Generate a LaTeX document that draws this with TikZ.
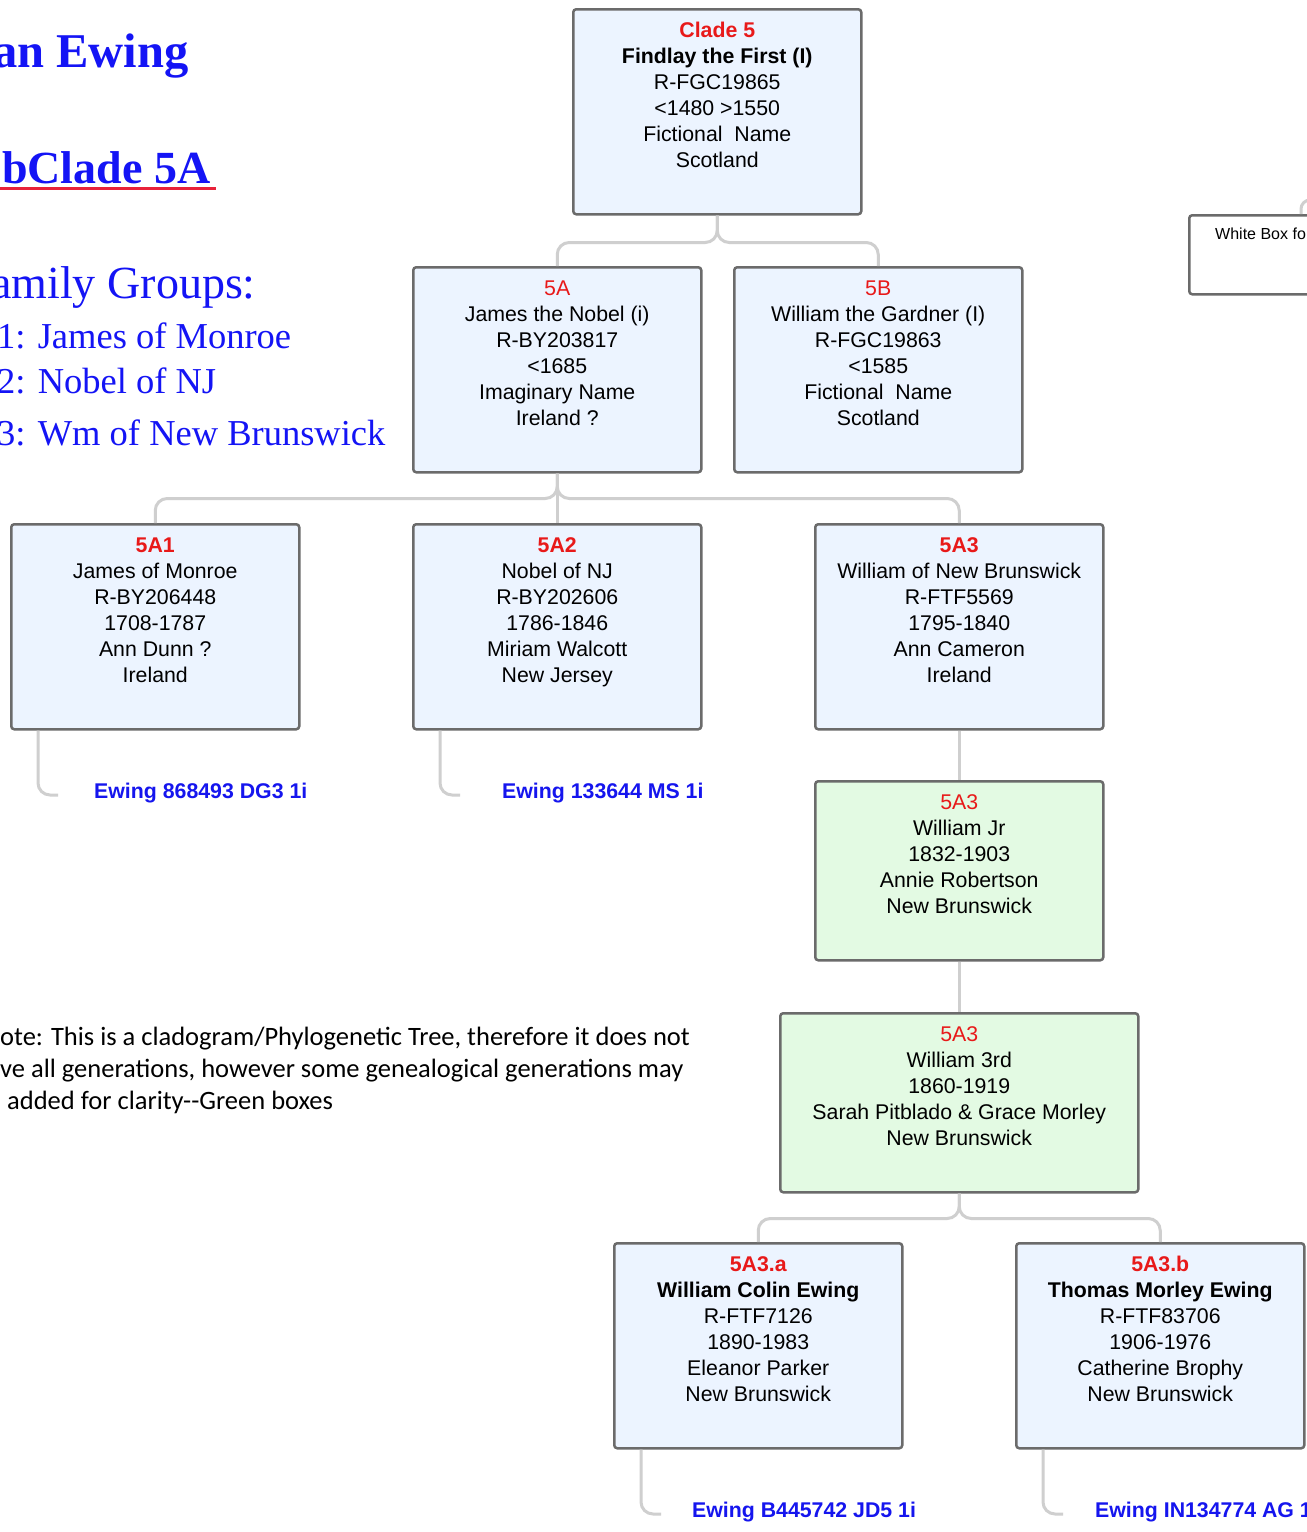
\documentclass[tikz,border=0pt]{standalone}
\usepackage{fontspec}
\setmainfont{Liberation Sans}
\newfontfamily\serifttl{Liberation Serif}
\newfontfamily\calib{Carlito}
\definecolor{boxline}{HTML}{6B6B6B}
\definecolor{bluefill}{HTML}{ECF4FF}
\definecolor{greenfill}{HTML}{E3FAE3}
\definecolor{connline}{HTML}{CFCFCF}
\definecolor{redtxt}{HTML}{E81919}
\definecolor{lblblue}{HTML}{1515EE}
\definecolor{ttlblue}{HTML}{1414F5}
\definecolor{ulred}{HTML}{E8223A}
\tikzset{
  box/.style={draw=boxline, line width=2.5pt, rounded corners=3pt, fill=bluefill,
    minimum width=288pt, minimum height=205pt, anchor=north west, inner sep=0pt},
  gbox/.style={box, fill=greenfill},
  txt/.style={anchor=north, align=center, inner sep=0pt, font=\fontsize{21.3}{26}\selectfont},
  conn/.style={draw=connline, line width=3pt, rounded corners=12pt},
  lbl/.style={anchor=west, inner sep=0pt, text=lblblue, font=\bfseries\fontsize{21.3}{26}\selectfont},
  ttl/.style={anchor=base west, inner sep=0pt, text=ttlblue},
  note/.style={anchor=base west, inner sep=0pt, font=\calib\fontsize{26.5}{32}\selectfont},
}
\newcommand{\rd}[1]{\textcolor{redtxt}{#1}}
\begin{document}
\begin{tikzpicture}[x=1pt,y=-1pt]
\useasboundingbox (0,0) rectangle (1307,1532);
\clip (0,0) rectangle (1307,1532);
\fill[white] (0,0) rectangle (1307,1532);

% titles
\node[ttl, font=\serifttl\bfseries\fontsize{48.5}{52}\selectfont] (t1) at (-7,67) {an Ewing};
\node[ttl, font=\serifttl\bfseries\fontsize{46}{50}\selectfont] (t2) at (2,183) {bClade 5A};
\draw[ulred, line width=3pt] (0,188) -- (216,188);
\node[ttl, font=\serifttl\fontsize{46}{50}\selectfont] (t3) at (-9,298) {amily Groups:};
\node[ttl, font=\serifttl\fontsize{36.5}{40}\selectfont] (g1) at (-3,348) {1: James of Monroe};
\node[ttl, font=\serifttl\fontsize{36.5}{40}\selectfont] (g2) at (-3,393) {2: Nobel of NJ};
\node[ttl, font=\serifttl\fontsize{36.5}{40}\selectfont] (g3) at (-3,445) {3: Wm of New Brunswick};

% note
\node[note] (n1) at (0,1045) {ote: This is a cladogram/Phylogenetic Tree, therefore it does not};
\node[note] (n2) at (0,1077) {ve all generations, however some genealogical generations may};
\node[note] (n3) at (7,1109) {added for clarity{-}{-}Green boxes};

% boxes
\node[box] (c5) at (572,8) {};
\node[box] (b5a) at (412,266) {};
\node[box] (b5b) at (733,266) {};
\node[box] (a1) at (10,523) {};
\node[box] (a2) at (412,523) {};
\node[box] (a3) at (814,523) {};
\node[gbox, minimum height=179pt] (gA) at (814,780) {};
\node[gbox, minimum width=358pt, minimum height=179pt] (gB) at (779,1012) {};
\node[box] (ea) at (613,1242) {};
\node[box] (eb) at (1015,1242) {};
\node[box, fill=white, minimum width=160pt, minimum height=79pt] (wb) at (1188,214) {};

% box texts
\node[txt] (c5t) at ([yshift=-14.2pt]c5.north) {\rd{\bfseries Clade 5}\\\bfseries Findlay the First (I)\\R-FGC19865\\<1480 >1550\\Fictional\ \ Name\\Scotland};
\node[txt] (b5at) at ([yshift=-14.2pt]b5a.north) {\rd{5A}\\James the Nobel (i)\\R-BY203817\\<1685\\Imaginary Name\\Ireland ?};
\node[txt] (b5bt) at ([yshift=-14.2pt]b5b.north) {\rd{5B}\\William the Gardner (I)\\R-FGC19863\\<1585\\Fictional\ \ Name\\Scotland};
\node[txt] (a1t) at ([yshift=-14.2pt]a1.north) {\rd{\bfseries 5A1}\\James of Monroe\\R-BY206448\\1708-1787\\Ann Dunn ?\\Ireland};
\node[txt] (a2t) at ([yshift=-14.2pt]a2.north) {\rd{\bfseries 5A2}\\Nobel of NJ\\R-BY202606\\1786-1846\\Miriam Walcott\\New Jersey};
\node[txt] (a3t) at ([yshift=-14.2pt]a3.north) {\rd{\bfseries 5A3}\\William of New Brunswick\\R-FTF5569\\1795-1840\\Ann Cameron\\Ireland};
\node[txt] (gAt) at ([yshift=-14.2pt]gA.north) {\rd{5A3}\\William Jr\\1832-1903\\Annie Robertson\\New Brunswick};
\node[txt] (gBt) at ([yshift=-14.2pt]gB.north) {\rd{5A3}\\William 3rd\\1860-1919\\Sarah Pitblado \& Grace Morley\\New Brunswick};
\node[txt] (eat) at ([yshift=-14.2pt]ea.north) {\rd{\bfseries 5A3.a}\\\bfseries William Colin Ewing\\R-FTF7126\\1890-1983\\Eleanor Parker\\New Brunswick};
\node[txt] (ebt) at ([yshift=-14.2pt]eb.north) {\rd{\bfseries 5A3.b}\\\bfseries Thomas Morley Ewing\\R-FTF83706\\1906-1976\\Catherine Brophy\\New Brunswick};
\node[anchor=west, inner sep=0pt, font=\fontsize{16}{18}\selectfont] (wbt) at (1215,234) {White Box fo};

% connectors
\draw[conn] (c5.south) -- ++(0,27) -| (b5a.north);
\draw[conn] (c5.south) -- ++(0,27) -| (b5b.north);
\draw[conn] (b5a.south) -- ++(0,25) -| (a1.north);
\draw[conn] (b5a.south) -- ++(0,25) -| (a3.north);
\draw[conn] (b5a.south) -- (a2.north);
\draw[conn] (a3.south) -- (gA.north);
\draw[conn] (gA.south) -- (gB.north);
\draw[conn] (gB.south) -- ++(0,25) -| (ea.north);
\draw[conn] (gB.south) -- ++(0,25) -| (eb.north);
\draw[conn, rounded corners=9pt] ([xshift=113pt]wb.north west) -- ++(0,-14) -- ++(30,0);

% labels
\node[lbl] (l1) at (94,793) {Ewing 868493 DG3 1i};
\node[lbl] (l2) at (502,793) {Ewing 133644 MS 1i};
\node[lbl] (l3) at (692,1512) {Ewing B445742 JD5 1i};
\node[lbl] (l4) at (1095,1512) {Ewing IN134774 AG 1};
\coordinate (e1) at (58,795);
\coordinate (e2) at (460,795);
\coordinate (e3) at (661,1514);
\coordinate (e4) at (1063,1514);
\draw[conn] ([xshift=28pt]a1.south west) |- (e1);
\draw[conn] ([xshift=28pt]a2.south west) |- (e2);
\draw[conn] ([xshift=28pt]ea.south west) |- (e3);
\draw[conn] ([xshift=28pt]eb.south west) |- (e4);
\end{tikzpicture}
\end{document}
